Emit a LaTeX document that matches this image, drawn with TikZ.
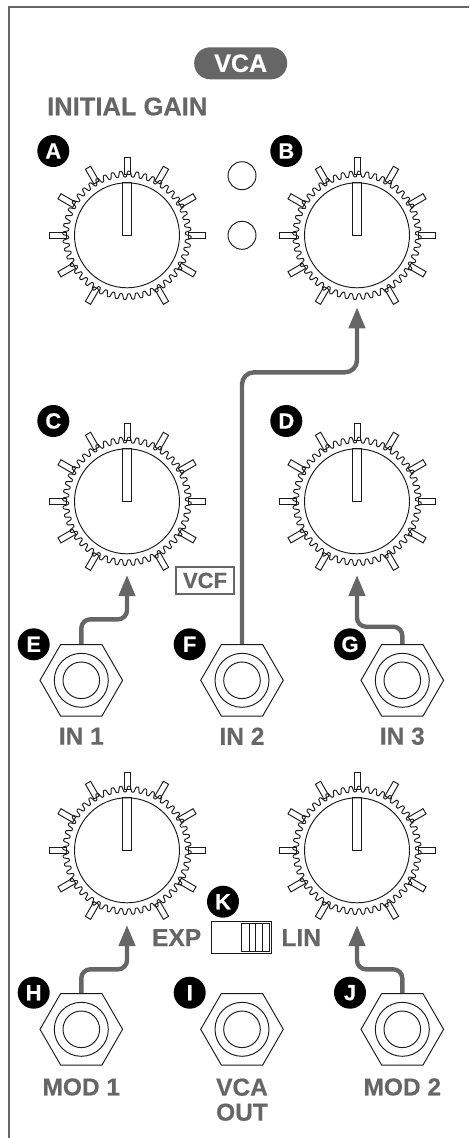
\documentclass[tikz,border=0pt]{standalone}
\usepackage{fontspec}
\setmainfont[BoldFeatures={FakeBold=0.5}]{Liberation Sans}
\usepackage{xcolor}
\usetikzlibrary{arrows.meta,positioning,calc,shapes.geometric}
\definecolor{panelgrey}{HTML}{666666}
\definecolor{inkline}{HTML}{1A1A1A}
\tikzset{
  lineart/.style={draw=inkline,line width=0.95pt},
  knobcap/.style={lineart,circle,inner sep=0pt,minimum size=105pt},
  ledlamp/.style={lineart,circle,inner sep=0pt,minimum size=28pt},
  jackhex/.style={lineart,regular polygon,regular polygon sides=6,inner sep=0pt,minimum size=82.6pt},
  jackouter/.style={lineart,circle,inner sep=0pt,minimum size=54pt},
  jackinner/.style={lineart,circle,inner sep=0pt,minimum size=36.6pt},
  badge/.style={circle,fill=black,text=white,inner sep=0pt,minimum size=32pt,font=\fontsize{22}{22}\bfseries\selectfont},
  paneltext/.style={text=panelgrey,inner sep=0pt,align=center,font=\fontsize{24.5}{25}\bfseries\selectfont},
  signal/.style={draw=panelgrey,line width=4.4pt,rounded corners=9pt,-{Triangle[length=21pt,width=16pt]}}
}
\begin{document}
\begin{tikzpicture}[x=1pt,y=-1pt]
  \useasboundingbox (0,0) rectangle (469,1138);
  \draw[draw=panelgrey,line width=1.6pt] (9,1138) -- (9,6.7) -- (469,6.7);

  % title and lamps
  \node[fill=panelgrey,rounded corners=15.9pt,minimum width=93pt,minimum height=32pt,inner sep=0pt,text=white,font=\fontsize{25}{25}\bfseries\selectfont] (title) at (240.7,63.3) {VCA};
  \node[paneltext,anchor=west,font=\fontsize{25.5}{25}\bfseries\selectfont] (gainlabel) at (47,106.5) {INITIAL GAIN};
  \node[ledlamp] (ledtop) at (242,175.7) {};
  \node[ledlamp] (ledbot) at (242,235.3) {};

  % knobs
  \foreach \kname/\kx/\ky in {A/127/235.3,B/357/235.3,C/127/501.3,D/357/501.3,H/127/850.3,J/357/850.3} {
    \node[knobcap] (knob\kname) at (\kx,\ky) {};
    \draw[lineart,shift={(\kx,\ky)}] plot[domain=0:360,samples=577]
      ({(61.3+2.8*min(1,max(-1,1.6*sin(48*mod(\x,7.5)))))*cos(\x)},{(61.3+2.8*min(1,max(-1,1.6*sin(48*mod(\x,7.5)))))*sin(\x)}) -- cycle;
    \foreach \a in {-150,-120,...,150}
      \draw[lineart,shift={(\kx,\ky)},rotate=\a] (-3,-61) rectangle (3,-78);
    \draw[lineart,shift={(\kx,\ky)}] (-4.5,0) rectangle (4.5,-52.5);
  }

  % jacks
  \foreach \jname/\jx/\jy in {E/81.3/680.3,F/242/680.3,G/402.3/680.3,H/81.3/1029.3,I/242/1029.3,J/402.3/1029.3} {
    \node[jackhex] (jack\jname) at (\jx,\jy) {};
    \node[jackouter] (outer\jname) at (\jx,\jy) {};
    \node[jackinner] (inner\jname) at (\jx,\jy) {};
  }

  % letter marks
  \foreach \bname/\bx/\by in {A/53.3/151,B/286.3/151,C/53.3/421,D/286.3/421,E/33.7/644.3,F/189.7/644.3,G/350/644.3,H/33.7/992.7,I/189.7/992.7,J/350/992.7,K/223/901.7}
    \node[badge] (mark\bname) at (\bx,\by) {\bname};

  % jack labels
  \node[paneltext] (labelE) at (81.3,736.2) {IN 1};
  \node[paneltext] (labelF) at (242,736.2) {IN 2};
  \node[paneltext] (labelG) at (402.3,736.2) {IN 3};
  \node[paneltext] (labelH) at (81.3,1087) {MOD 1};
  \node[paneltext] (labelI) at (242,1099.7) {VCA\\OUT};
  \node[paneltext] (labelJ) at (402.3,1087) {MOD 2};

  \node[draw=panelgrey,line width=1.6pt,text=panelgrey,inner sep=0pt,minimum width=57.5pt,minimum height=27pt,font=\fontsize{22}{22}\bfseries\selectfont] (vcfbox) at (205,580.5) {VCF};

  % switch
  \node[lineart,inner sep=0pt,minimum width=60pt,minimum height=32.5pt] (switchbody) at (241.8,937.6) {};
  \node[lineart,inner sep=0pt,minimum width=27.5pt,minimum height=28pt] (slider) at (255.6,937.4) {};
  \foreach \s in {249,255.8,262.5}
    \draw[lineart] (\s,923.4) -- (\s,951.4);
  \node[paneltext,left=10pt of switchbody] (labelexp) {EXP};
  \node[paneltext,right=9pt of switchbody] (labellin) {LIN};

  % signal routes
  \coordinate (tipB) at (357,307.3);
  \coordinate (tipC) at (127,575);
  \coordinate (tipD) at (357,575);
  \coordinate (tipH) at (127,925);
  \coordinate (tipJ) at (357,925);
  \draw[signal] (jackE.north) -- (jackE.north |- 0,619.3) -| (tipC);
  \draw[signal,rounded corners=12pt] (jackF.north) -- (jackF.north |- 0,372.3) -| (tipB);
  \draw[signal] (jackG.north) -- (jackG.north |- 0,626.7) -| (tipD);
  \draw[signal] (jackH.north) -- (jackH.north |- 0,969.3) -| (tipH);
  \draw[signal] (jackJ.north) -- (jackJ.north |- 0,969.3) -| (tipJ);
\end{tikzpicture}
\end{document}
